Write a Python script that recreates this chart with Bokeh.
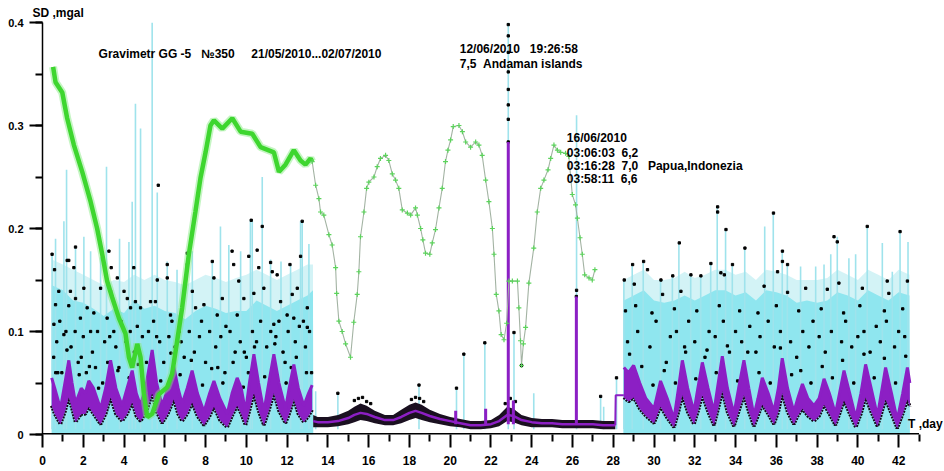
from bokeh.plotting import figure
from bokeh.models import Range1d, SingleIntervalTicker, FixedTicker, Label, Title
from bokeh.embed import file_html
from bokeh.resources import INLINE

# ---------------- data ----------------
# purple (SD) band, active period 1
p1_x = [0.45, 0.6, 0.88, 1.1, 1.29, 1.45, 1.62, 1.9, 2.1, 2.27, 2.5, 2.85, 3.1, 3.34, 3.6, 3.91, 4.15, 4.40, 4.6, 4.81,
        5.1, 5.38, 5.6, 5.87, 6.15, 6.44, 6.65, 6.85, 7.1, 7.34, 7.6, 7.92, 8.2, 8.41, 8.7, 9.06, 9.3, 9.55, 9.75, 9.96,
        10.15, 10.37, 10.6, 10.86, 11.1, 11.35, 11.6, 11.92, 12.1, 12.33, 12.55, 12.82, 13.05, 13.23]
p1_top = [0.055, 0.045, 0.025, 0.05, 0.072, 0.05, 0.03, 0.045, 0.04, 0.052, 0.045, 0.025, 0.045, 0.072, 0.045, 0.028, 0.045, 0.062, 0.04, 0.028,
          0.05, 0.082, 0.05, 0.028, 0.045, 0.066, 0.045, 0.03, 0.045, 0.062, 0.04, 0.022, 0.04, 0.052, 0.035, 0.02, 0.04, 0.055, 0.045, 0.022,
          0.05, 0.078, 0.05, 0.022, 0.05, 0.078, 0.05, 0.025, 0.045, 0.068, 0.045, 0.028, 0.04, 0.048]
p1_bot = [0.028, 0.02, 0.01, 0.022, 0.036, 0.025, 0.012, 0.02, 0.02, 0.027, 0.02, 0.01, 0.02, 0.036, 0.02, 0.013, 0.02, 0.031, 0.018, 0.013,
          0.022, 0.04, 0.022, 0.011, 0.02, 0.034, 0.02, 0.013, 0.02, 0.031, 0.018, 0.009, 0.018, 0.027, 0.014, 0.007, 0.018, 0.028, 0.02, 0.009,
          0.023, 0.04, 0.023, 0.009, 0.023, 0.04, 0.023, 0.011, 0.02, 0.034, 0.02, 0.012, 0.018, 0.024]

# quiet period
q_x = [13.28, 13.5, 14.0, 14.5, 15.0, 15.3, 15.6, 15.9, 16.3, 16.8, 17.2, 17.6, 18.0, 18.3, 18.6, 19.0, 19.5, 20.0, 20.5, 21.0,
       21.5, 22.0, 22.4, 22.8, 23.1, 23.5, 24.0, 24.5, 25.0, 25.5, 26.0, 26.5, 27.0, 27.5, 28.1]
q_mid = [0.013, 0.012, 0.012, 0.013, 0.016, 0.019, 0.021, 0.02, 0.017, 0.014, 0.014, 0.017, 0.021, 0.023, 0.021, 0.018, 0.015, 0.013, 0.011, 0.009,
         0.009, 0.01, 0.013, 0.019, 0.018, 0.014, 0.012, 0.011, 0.011, 0.01, 0.01, 0.01, 0.01, 0.009, 0.009]
q_top = [0.019, 0.017, 0.017, 0.019, 0.023, 0.027, 0.03, 0.028, 0.023, 0.019, 0.019, 0.024, 0.029, 0.031, 0.029, 0.024, 0.02, 0.017, 0.015, 0.013,
         0.013, 0.014, 0.019, 0.027, 0.025, 0.019, 0.016, 0.015, 0.015, 0.014, 0.014, 0.014, 0.014, 0.013, 0.013]
q_bot = [0.007, 0.007, 0.007, 0.008, 0.01, 0.012, 0.014, 0.013, 0.011, 0.009, 0.009, 0.011, 0.014, 0.016, 0.014, 0.012, 0.01, 0.008, 0.007, 0.005,
         0.005, 0.006, 0.008, 0.013, 0.012, 0.009, 0.007, 0.007, 0.007, 0.006, 0.006, 0.006, 0.006, 0.005, 0.005]
step_x = [28.1, 28.12, 28.52]
step_y = [0.009, 0.038, 0.038]

# active period 2
p2_x = [28.52, 28.75, 29.0, 29.3, 29.6, 30.0, 30.32, 30.65, 30.98, 31.2, 31.39, 31.65, 31.96, 32.15, 32.37, 32.65, 32.94, 33.15, 33.35, 33.6,
        33.92, 34.15, 34.41, 34.65, 34.9, 35.1, 35.31, 35.6, 35.88, 36.1, 36.29, 36.55, 36.86, 37.05, 37.28, 37.55, 37.85, 38.1, 38.34, 38.6,
        38.9, 39.1, 39.32, 39.6, 39.9, 40.15, 40.38, 40.65, 40.96, 41.15, 41.36, 41.65, 41.93, 42.2, 42.43, 42.55]
p2_top = [0.065, 0.06, 0.067, 0.05, 0.035, 0.025, 0.052, 0.035, 0.015, 0.045, 0.072, 0.045, 0.022, 0.045, 0.07, 0.045, 0.022, 0.05, 0.076, 0.045,
          0.02, 0.045, 0.072, 0.045, 0.018, 0.035, 0.055, 0.04, 0.022, 0.045, 0.074, 0.045, 0.022, 0.035, 0.049, 0.035, 0.028, 0.035, 0.054, 0.04,
          0.02, 0.04, 0.062, 0.04, 0.016, 0.04, 0.068, 0.045, 0.018, 0.04, 0.065, 0.04, 0.014, 0.04, 0.065, 0.05]
p2_bot = [0.036, 0.032, 0.036, 0.025, 0.018, 0.011, 0.027, 0.016, 0.007, 0.022, 0.038, 0.022, 0.01, 0.022, 0.038, 0.022, 0.009, 0.025, 0.042, 0.022,
          0.008, 0.022, 0.038, 0.022, 0.008, 0.018, 0.029, 0.02, 0.01, 0.022, 0.04, 0.022, 0.01, 0.018, 0.025, 0.018, 0.013, 0.018, 0.029, 0.02,
          0.009, 0.02, 0.033, 0.02, 0.007, 0.02, 0.036, 0.022, 0.008, 0.02, 0.034, 0.02, 0.006, 0.02, 0.034, 0.027]

# purple earthquake spikes
ps_x = [20.27, 21.74, 22.85, 23.1, 26.19]
ps_top = [0.023, 0.025, 0.284, 0.033, 0.134]

# cyan dense envelope
c1_x = [0.45, 0.46, 1.0, 1.5, 2.0, 2.5, 3.0, 3.5, 4.0, 4.5, 5.0, 5.5, 6.0, 6.5, 7.0, 7.5, 8.0, 8.5, 9.0, 9.5,
        10.0, 10.5, 11.0, 11.5, 12.0, 12.5, 13.0, 13.27, 13.28]
c1_env = [0.0, 0.145, 0.14, 0.13, 0.128, 0.122, 0.115, 0.122, 0.118, 0.13, 0.122, 0.125, 0.12, 0.118, 0.112, 0.12, 0.125, 0.122, 0.118, 0.12,
          0.12, 0.13, 0.125, 0.12, 0.125, 0.13, 0.135, 0.14, 0.0]
c1_haze = [0.0, 0.17, 0.165, 0.16, 0.155, 0.15, 0.145, 0.15, 0.148, 0.155, 0.15, 0.155, 0.15, 0.148, 0.145, 0.15, 0.155, 0.152, 0.148, 0.152,
           0.155, 0.16, 0.155, 0.15, 0.155, 0.16, 0.165, 0.165, 0.0]
c2_x = [28.5, 28.52, 29.0, 29.5, 30.0, 30.5, 31.0, 31.5, 32.0, 32.5, 33.0, 33.5, 34.0, 34.5, 35.0, 35.5, 36.0, 36.5, 37.0, 37.5,
        38.0, 38.5, 39.0, 39.5, 40.0, 40.5, 41.0, 41.5, 42.0, 42.53, 42.55]
c2_env = [0.0, 0.13, 0.135, 0.14, 0.13, 0.128, 0.13, 0.135, 0.13, 0.135, 0.14, 0.14, 0.135, 0.138, 0.13, 0.14, 0.138, 0.135, 0.128, 0.13,
          0.128, 0.13, 0.138, 0.135, 0.13, 0.14, 0.135, 0.13, 0.138, 0.135, 0.0]
c2_haze = [0.0, 0.15, 0.155, 0.16, 0.15, 0.15, 0.152, 0.158, 0.152, 0.155, 0.16, 0.16, 0.155, 0.158, 0.15, 0.16, 0.158, 0.155, 0.15, 0.15,
           0.15, 0.152, 0.16, 0.155, 0.15, 0.16, 0.155, 0.15, 0.16, 0.155, 0.0]

# cyan spikes
cs_x = [0.47, 0.64, 1.05, 1.18, 1.62, 2.03, 2.36, 2.85, 3.14, 3.78, 4.24, 4.4, 4.56, 4.81, 5.38, 5.63, 6.12, 6.6, 7.35, 8.33,
        8.73, 9.14, 9.72, 10.2, 10.29, 10.78, 11.19, 11.7, 12.17, 12.66, 12.74, 13.07,
        13.4, 14.49, 18.47, 20.31, 20.67, 21.7, 22.85, 23.13, 24.1, 26.2, 27.38, 27.53, 28.16,
        28.52, 28.93, 29.47, 30.32, 30.9, 31.22, 31.8, 32.29, 32.78, 33.1, 33.51, 33.84, 34.45, 35.43, 35.85, 36.29, 36.54, 37.19,
        37.93, 38.34, 38.67, 38.99, 39.56, 39.89, 40.46, 41.2, 41.69, 42.07, 42.46]
cs_top = [0.175, 0.19, 0.207, 0.257, 0.181, 0.192, 0.178, 0.172, 0.26, 0.19, 0.187, 0.226, 0.321, 0.297, 0.4, 0.235, 0.168, 0.16, 0.178, 0.168,
          0.202, 0.184, 0.178, 0.208, 0.208, 0.25, 0.17, 0.168, 0.165, 0.207, 0.207, 0.185,
          0.042, 0.04, 0.048, 0.045, 0.078, 0.089, 0.4, 0.099, 0.04, 0.31, 0.037, 0.027, 0.055,
          0.15, 0.165, 0.168, 0.15, 0.154, 0.186, 0.155, 0.154, 0.166, 0.221, 0.199, 0.165, 0.181, 0.202, 0.215, 0.178, 0.165, 0.163,
          0.163, 0.165, 0.175, 0.192, 0.171, 0.175, 0.202, 0.186, 0.158, 0.197, 0.187]

# black scattered points
bk_x = [0.47, 0.59, 1.21, 1.29, 1.54, 1.62, 0.8, 1.37, 0.64, 1.29, 2.03, 2.19, 2.52, 1.62, 1.86, 0.56, 1.05, 2.36, 2.85, 3.26,
        3.37, 3.34, 3.67, 3.17, 4.0, 4.16, 4.48, 4.56, 4.32, 4.81, 5.3, 5.63, 5.68, 5.54, 6.12, 6.12, 6.28, 7.1, 7.1, 7.35,
        7.51, 7.92, 8.33, 8.41, 8.57, 8.82, 9.3, 9.38, 9.63, 9.55, 9.88, 10.12, 10.24, 10.37, 10.53, 10.61, 10.78, 10.86, 11.19, 11.27,
        11.35, 11.51, 11.68, 12.0, 12.14, 12.25, 12.5, 12.66, 12.74, 12.99, 12.33, 12.99,
        0.7, 0.95, 1.15, 1.4, 1.75, 2.0, 2.15, 2.45, 2.7, 2.95, 3.05, 3.5, 3.75, 3.85, 4.1, 4.3, 4.65, 4.9, 5.2, 5.45,
        5.75, 5.95, 6.2, 6.5, 6.7, 6.95, 7.2, 7.45, 7.7, 8.0, 8.2, 8.5, 8.75, 8.95, 9.2, 9.45, 9.7, 10.0, 10.3, 10.5,
        10.7, 11.0, 11.2, 11.45, 11.8, 12.05, 12.4, 12.6, 12.9, 13.1, 0.55, 0.85, 1.6, 2.6, 3.3, 4.5, 5.6, 6.35, 7.8, 9.0,
        10.1, 11.6, 12.2, 12.8, 0.75, 1.9, 3.6, 5.1, 6.8, 8.6, 9.9, 11.9, 13.2,
        15.3, 15.5, 15.7, 15.9, 16.1, 18.1, 18.3, 18.5, 18.7, 22.7, 22.95, 23.2, 14.49, 18.47, 20.31, 20.67, 21.7, 23.13, 27.38, 28.16,
        22.85, 22.85, 22.85, 22.85, 22.85, 22.85, 22.85, 22.85, 26.19, 26.2, 23.5,
        28.54, 28.95, 29.49, 29.68, 29.03, 30.34, 30.42, 30.92, 31.24, 31.32, 31.81, 32.3, 32.79, 33.12, 33.12, 33.28, 33.45, 33.53, 33.85, 34.46,
        35.4, 35.86, 36.06, 36.3, 36.3, 36.55, 36.55, 37.44, 38.5, 38.83, 38.99, 39.07, 40.22, 40.46, 41.44, 42.07, 42.43, 41.52,
        28.7, 29.2, 29.8, 30.1, 30.6, 30.8, 31.1, 31.5, 31.7, 32.0, 32.5, 32.7, 33.0, 33.4, 33.7, 34.0, 34.3, 34.7, 35.0, 35.2,
        35.6, 35.9, 36.2, 36.7, 37.0, 37.3, 37.6, 37.8, 38.1, 38.4, 38.7, 39.2, 39.4, 39.7, 40.0, 40.3, 40.6, 40.9, 41.1, 41.4,
        41.8, 42.0, 42.3, 28.6, 29.1, 29.9, 31.0, 32.1, 33.2, 34.2, 35.1, 36.0, 37.1, 38.2, 39.3, 40.1, 41.3, 42.2,
        0.65, 1.2, 1.8, 2.3, 2.75, 3.2, 3.7, 4.25, 4.7, 5.25, 5.8, 6.3, 6.75, 7.3, 7.85, 8.3, 8.85, 9.35, 9.85, 10.4,
        10.9, 11.4, 11.95, 12.45, 12.95, 28.8, 29.4, 29.95, 30.5, 31.05, 31.55, 32.05, 32.6, 33.05, 33.6, 34.1, 34.6, 35.15, 35.7, 36.2,
        36.75, 37.2, 37.7, 38.25, 38.75, 39.25, 39.8, 40.3, 40.8, 41.3, 41.85, 42.35]
bk_y = [0.175, 0.16, 0.169, 0.169, 0.162, 0.182, 0.139, 0.139, 0.126, 0.125, 0.142, 0.123, 0.118, 0.132, 0.113, 0.107, 0.097, 0.1, 0.142, 0.178,
        0.162, 0.139, 0.152, 0.113, 0.139, 0.132, 0.162, 0.129, 0.123, 0.123, 0.129, 0.15, 0.242, 0.129, 0.165, 0.152, 0.116, 0.165, 0.176, 0.139,
        0.123, 0.126, 0.168, 0.152, 0.116, 0.132, 0.178, 0.165, 0.149, 0.116, 0.132, 0.173, 0.208, 0.137, 0.179, 0.162, 0.202, 0.142, 0.167, 0.158,
        0.107, 0.155, 0.129, 0.116, 0.165, 0.136, 0.142, 0.173, 0.207, 0.123, 0.113, 0.104,
        0.09, 0.06, 0.1, 0.085, 0.07, 0.095, 0.06, 0.08, 0.1, 0.05, 0.09, 0.1, 0.065, 0.11, 0.09, 0.1, 0.105, 0.095, 0.1, 0.11,
        0.09, 0.07, 0.095, 0.085, 0.1, 0.075, 0.1, 0.08, 0.095, 0.07, 0.1, 0.085, 0.095, 0.06, 0.1, 0.08, 0.09, 0.075, 0.1, 0.09,
        0.11, 0.085, 0.1, 0.095, 0.08, 0.1, 0.09, 0.105, 0.085, 0.1, 0.075, 0.11, 0.1, 0.065, 0.095, 0.08, 0.095, 0.11, 0.11, 0.105,
        0.06, 0.11, 0.065, 0.11, 0.06, 0.075, 0.085, 0.07, 0.09, 0.065, 0.08, 0.07, 0.06,
        0.033, 0.035, 0.036, 0.032, 0.03, 0.034, 0.036, 0.035, 0.032, 0.03, 0.035, 0.032, 0.04, 0.048, 0.045, 0.078, 0.089, 0.099, 0.037, 0.055,
        0.398, 0.387, 0.371, 0.352, 0.335, 0.32, 0.306, 0.284, 0.134, 0.14, 0.067,
        0.15, 0.165, 0.168, 0.16, 0.146, 0.15, 0.136, 0.154, 0.186, 0.139, 0.155, 0.154, 0.166, 0.221, 0.216, 0.157, 0.155, 0.199, 0.165, 0.181,
        0.144, 0.215, 0.158, 0.178, 0.168, 0.165, 0.138, 0.142, 0.141, 0.192, 0.187, 0.147, 0.142, 0.202, 0.149, 0.197, 0.149, 0.137,
        0.09, 0.1, 0.085, 0.11, 0.07, 0.095, 0.1, 0.085, 0.11, 0.09, 0.075, 0.1, 0.095, 0.11, 0.08, 0.1, 0.09, 0.105, 0.08, 0.095,
        0.11, 0.085, 0.1, 0.09, 0.075, 0.1, 0.085, 0.11, 0.095, 0.08, 0.1, 0.09, 0.11, 0.085, 0.095, 0.1, 0.08, 0.105, 0.09, 0.11,
        0.085, 0.1, 0.095, 0.12, 0.125, 0.118, 0.122, 0.12, 0.125, 0.12, 0.118, 0.125, 0.12, 0.122, 0.118, 0.125, 0.12, 0.122,
        0.06, 0.082, 0.058, 0.066, 0.045, 0.07, 0.062, 0.055, 0.068, 0.06, 0.052, 0.079, 0.058, 0.072, 0.048, 0.064, 0.05, 0.07, 0.046, 0.085,
        0.056, 0.088, 0.05, 0.075, 0.06, 0.078, 0.066, 0.048, 0.062, 0.05, 0.08, 0.054, 0.082, 0.06, 0.086, 0.052, 0.08, 0.06, 0.05, 0.084,
        0.058, 0.062, 0.05, 0.066, 0.055, 0.072, 0.05, 0.078, 0.055, 0.074, 0.05, 0.076]

# green curves
g1_x = [0.52, 0.64, 0.97, 1.21, 1.54, 1.95, 2.36, 2.68, 2.93, 3.17, 3.42, 3.75, 4.07, 4.24, 4.40, 4.65, 4.81, 4.97, 5.14, 5.38,
        5.71, 6.12, 6.36, 6.53, 6.85, 7.18, 7.5, 7.75, 8.0, 8.24, 8.41, 8.82, 9.31, 9.72, 10.29, 10.70, 11.35, 11.6, 11.92, 12.33,
        12.66, 12.9, 13.15, 13.23]
g1_y = [0.357, 0.342, 0.332, 0.307, 0.281, 0.255, 0.226, 0.200, 0.175, 0.149, 0.133, 0.113, 0.098, 0.075, 0.065, 0.088, 0.075, 0.040, 0.017, 0.020,
        0.039, 0.046, 0.059, 0.081, 0.123, 0.175, 0.216, 0.249, 0.274, 0.300, 0.305, 0.297, 0.307, 0.294, 0.292, 0.279, 0.274, 0.255, 0.262, 0.276,
        0.266, 0.262, 0.268, 0.265]
g2_x = [13.23, 13.4, 13.56, 13.64, 13.8, 14.05, 14.21, 14.38, 14.43, 14.54, 14.7, 14.87, 15.11, 15.27, 15.44, 15.52, 15.6, 15.77, 15.9, 16.01,
        16.26, 16.42, 16.58, 16.83, 16.99, 17.16, 17.32, 17.48, 17.65, 17.9, 18.06, 18.3, 18.39, 18.55, 18.66, 18.79, 19.0, 19.12, 19.28, 19.45,
        19.61, 19.77, 19.89, 20.02, 20.15, 20.43, 20.6, 20.76, 21.0, 21.25, 21.41, 21.57, 21.74, 21.9, 22.07, 22.15, 22.26, 22.39, 22.5, 22.64,
        22.77, 22.88, 23.05, 23.3, 23.37, 23.45, 23.5, 23.59, 23.7, 23.86, 24.1, 24.27, 24.44, 24.6, 24.8, 24.93, 25.09, 25.26, 25.42, 25.66,
        25.82, 25.99, 26.15, 26.24, 26.37, 26.48, 26.6, 26.81, 26.97, 27.1]
g2_y = [0.265, 0.242, 0.229, 0.216, 0.213, 0.194, 0.184, 0.162, 0.137, 0.110, 0.100, 0.088, 0.075, 0.109, 0.136, 0.158, 0.192, 0.216, 0.239, 0.245,
        0.250, 0.260, 0.268, 0.271, 0.266, 0.253, 0.247, 0.239, 0.218, 0.215, 0.213, 0.220, 0.213, 0.200, 0.189, 0.176, 0.175, 0.186, 0.199, 0.220,
        0.239, 0.265, 0.276, 0.286, 0.299, 0.300, 0.294, 0.284, 0.279, 0.284, 0.281, 0.271, 0.247, 0.226, 0.200, 0.175, 0.136, 0.120, 0.097, 0.092,
        0.108, 0.149, 0.149, 0.149, 0.123, 0.091, 0.067, 0.088, 0.104, 0.147, 0.181, 0.216, 0.239, 0.247, 0.257, 0.268, 0.281, 0.276, 0.274, 0.273,
        0.270, 0.233, 0.223, 0.210, 0.191, 0.175, 0.155, 0.152, 0.150, 0.160]

# axis ticks
x_major = [0, 2, 4, 6, 8, 10, 12, 14, 16, 18, 20, 22, 24, 26, 28, 30, 32, 34, 36, 38, 40, 42]
x_minor = [1, 3, 5, 7, 9, 11, 13, 15, 17, 19, 21, 23, 25, 27, 29, 31, 33, 35, 37, 39, 41, 43]
x_axis_end = [0, 43]

# texts
NB = "\u00a0"
title_text = "Gravimetr GG -5" + NB * 3 + "№350" + NB * 5 + "21/05/2010...02/07/2010"
quake1_lines = ["12/06/2010" + NB * 3 + "19:26:58", "7,5" + NB * 2 + "Andaman islands"]
quake2_lines = ["16/06/2010", "03:06:03" + NB * 2 + "6,2", "03:16:28" + NB * 2 + "7,0", "03:58:11" + NB * 2 + "6,6"]
quake2_place = "Papua,Indonezia"
y_label = "SD ,mgal"
x_label = "T ,day"

# ---------------- figure ----------------
FONT = "Liberation Sans"
p = figure(width=944, height=471, output_backend="svg", toolbar_location=None, title=None,
           x_range=Range1d(0, 44.25), y_range=Range1d(0, 0.4),
           min_border_left=42, min_border_right=0, min_border_top=20, min_border_bottom=37)
p.outline_line_color = None
p.grid.visible = False
p.background_fill_color = "white"
p.border_fill_color = "white"

# cyan
p.varea(x=c1_x, y1=0, y2=c1_haze, color="#c8f0f4", alpha=0.8)
p.varea(x=c2_x, y1=0, y2=c2_haze, color="#c8f0f4", alpha=0.8)
p.varea(x=c1_x, y1=0, y2=c1_env, color="#8fe6ef")
p.varea(x=c2_x, y1=0, y2=c2_env, color="#8fe6ef")
p.segment(x0=cs_x, y0=0.005, x1=cs_x, y1=cs_top, line_color="#9fe3ec", line_width=1.6)

# black dots
p.scatter(x=bk_x, y=bk_y, marker="square", size=2.3, color="black")

# purple bands with speckled dark lower edge
p.line(x=p1_x, y=p1_bot, line_color="#140818", line_width=3.5, line_dash="2 1")
p.line(x=p2_x, y=p2_bot, line_color="#140818", line_width=3.5, line_dash="2 1")
p.varea(x=p1_x, y1=p1_bot, y2=p1_top, color="#8c1fc4")
p.varea(x=p2_x, y1=p2_bot, y2=p2_top, color="#8c1fc4")
p.line(x=p1_x, y=p1_top, line_color="#8c1fc4", line_width=3)
p.line(x=p2_x, y=p2_top, line_color="#8c1fc4", line_width=3)

# quiet period
p.varea(x=q_x, y1=q_bot, y2=q_top, color="#1a1020")
p.line(x=q_x, y=q_mid, line_color="#8c1fc4", line_width=2.5)
p.line(x=step_x, y=step_y, line_color="#8c1fc4", line_width=2)
p.segment(x0=ps_x, y0=0.01, x1=ps_x, y1=ps_top, line_color="#8c1fc4", line_width=3)

# green
p.line(x=g1_x, y=g1_y, line_color="#7fe87a", line_width=8, alpha=0.45)
p.line(x=g1_x, y=g1_y, line_color="#3ed62f", line_width=4.5)
p.line(x=g2_x, y=g2_y, line_color="#a3b3a3", line_width=1.1)
p.scatter(x=g2_x, y=g2_y, marker="cross", size=5, line_color="#5cd35c", line_width=1.2)

# x axis line ends at 43 (the frame continues to the right for the "T ,day" label)
p.line(x=x_axis_end, y=[0, 0], line_color="black", line_width=3)

# axes
for ax in (p.xaxis[0], p.yaxis[0]):
    ax.axis_line_width = 1.5
    ax.major_tick_in = 0
    ax.minor_tick_in = 0
    ax.major_tick_line_width = 2
    ax.minor_tick_line_width = 2
    ax.major_label_text_font = FONT
    ax.major_label_text_font_style = "bold"
    ax.major_label_text_color = "black"
    ax.axis_line_color = "black"
    ax.major_tick_line_color = "black"
    ax.minor_tick_line_color = "black"

p.xaxis.axis_line_color = None
p.xaxis.ticker = FixedTicker(ticks=x_major, minor_ticks=x_minor)
p.xaxis.major_tick_out = 13
p.xaxis.minor_tick_out = 7
p.xaxis.major_label_standoff = 8
p.xaxis.major_label_text_font_size = "12px"

p.yaxis.ticker = SingleIntervalTicker(interval=0.1, num_minor_ticks=2)
p.yaxis.major_tick_out = 13
p.yaxis.minor_tick_out = 7
p.yaxis.major_label_standoff = 6
p.yaxis.major_label_text_font_size = "11px"
p.yaxis.major_label_overrides = {0: "0"}

# y-axis name above the plot
p.add_layout(Title(text=y_label, align="left", offset=-10, standoff=6, text_font=FONT,
                   text_font_style="bold", text_font_size="12px", text_color="black"), "above")

# labels
def add_label(x, y, text, size="12px", baseline="middle"):
    p.add_layout(Label(x=x, y=y, text=text, text_font=FONT, text_font_style="bold",
                       text_font_size=size, text_baseline=baseline, text_color="black"))

add_label(42.46, 0.0106, x_label)
add_label(2.75, 0.369, title_text)
add_label(20.47, 0.374, quake1_lines[0])
add_label(20.47, 0.360, quake1_lines[1])
add_label(25.72, 0.2874, quake2_lines[0])
add_label(25.72, 0.273, quake2_lines[1])
add_label(25.72, 0.261, quake2_lines[2])
add_label(25.72, 0.248, quake2_lines[3])
add_label(29.7, 0.261, quake2_place)

open("out.html", "w").write(file_html(p, INLINE))
